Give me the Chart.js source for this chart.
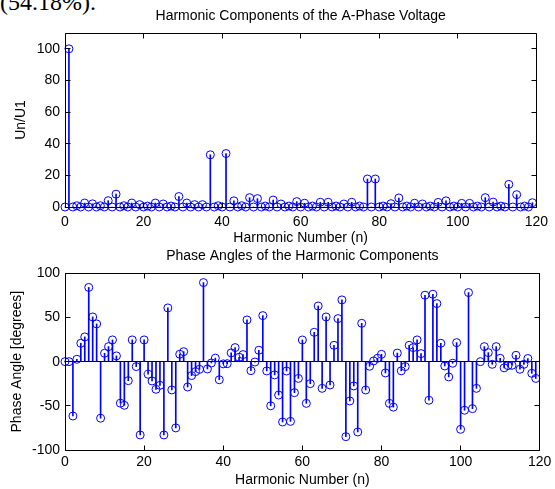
<!DOCTYPE html>
<html>
<head>
<meta charset="utf-8">
<script src="https://cdn.jsdelivr.net/npm/chart.js@4.4.1/dist/chart.umd.min.js"></script>
<style>
  body { margin: 0; background: #fff; width: 555px; height: 489px; overflow: hidden; position: relative; }
  canvas { position: absolute; left: 0; }
  #magChart { top: 0; }
  #phaseChart { top: 248px; }
  .lead { position: absolute; left: 0; top: -10px; font: 24px/24px "Liberation Serif", "Times New Roman", serif; white-space: nowrap; }
</style>
</head>
<body>
<div class="lead">(54.18%).</div>
<canvas id="magChart" width="555" height="248"></canvas>
<canvas id="phaseChart" width="555" height="241"></canvas>
<script>
const harmonicTicks = [0, 20, 40, 60, 80, 100, 120];
const magnitudeTicks = [0, 20, 40, 60, 80, 100];
const phaseTicks = [-100, -50, 0, 50, 100];

// Un/U1 in percent, harmonic n = 0..119
const magnitude = [
  0, 100, 0, 0.8, 0, 2.5, 0, 2, 0, 0.8,
  0, 4, 0, 8.1, 0, 0.8, 0, 2.5, 0, 1.5,
  0, 0.6, 0, 2.5, 0, 1.9, 0, 0.6, 0, 6.6,
  0, 2.5, 0, 1.5, 0, 1.5, 0, 33, 0, 0.8,
  0, 33.8, 0, 3.9, 0, 0.8, 0, 5.9, 0, 5.3,
  0, 0.6, 0, 4.4, 0, 1.9, 0, 0.6, 0, 3.4,
  0, 2.4, 0, 0.6, 0, 3, 0, 3, 0, 0.6,
  0, 1.9, 0, 3, 0, 0.6, 0, 17.7, 0, 17.7,
  0, 0.6, 0, 2.1, 0, 5.7, 0, 0.6, 0, 2.4,
  0, 1.9, 0, 0.6, 0, 2.9, 0, 3.9, 0, 0.6,
  0, 2.3, 0, 2.3, 0, 0.6, 0, 5.9, 0, 3.1,
  0, 0.6, 0, 14.3, 0, 7.8, 0, 0.6, 0, 2.7
];

// phase angle in degrees, harmonic n = 0..119
const phase = [
  0, 0, -61.5, 2.7, 20.8, 28, 84, 50.6, 42.7, -64,
  9.5, 17, 24.6, 6.5, -47, -49.4, -21.5, 24.6, -5.6, -83,
  24.6, -14.3, -21.9, -31.3, -26.8, -83, 60.8, -32, -75, 8.4,
  11.3, -28.7, -15.8, -11.3, -8.7, 89.5, -8.3, -1.5, 4, -20.5,
  -2.5, -2.3, 9.9, 15.9, 5, 8, 47.2, -10.2, -0.4, 12.9,
  52.1, -10.5, -50, -15, -37.8, -68.3, -10.6, -67.6, -35.1, -19,
  24.5, -47.2, -24.9, 33.2, 63, -30.2, 50.6, -26.4, 18.5, 48.7,
  69.9, -84.9, -44.5, -27.5, -79.6, 43.4, -32.1, -5.2, 0.8, 3.8,
  8.3, -12.8, -47.2, -51.5, 9.7, -10.4, -5.6, 18.5, 15.9, 24.6,
  9.1, 75.2, -43.7, 76.3, 65.7, 20.8, -4.9, -17.3, -1.8, 21.5,
  -76.6, -55, 78.2, -53.2, -30.2, 0, 17, 10.2, -3, 17,
  3.8, -7, -4.5, -4.1, 7.2, -8.6, -3, 3.6, -13.2, -19
];

const STEM = '#0000ff';

Chart.defaults.font.family = '"Liberation Sans", Arial, sans-serif';
Chart.defaults.font.size = 14;
Chart.defaults.color = '#000';

// closed box round the plot with short inward ticks on every side
const axesBox = {
  id: 'axesBox',
  afterDatasetsDraw(chart) {
    const { ctx, chartArea: a, scales: { x, y } } = chart;
    const L = Math.floor(a.left) + 0.5, R = Math.floor(a.right) + 0.5;
    const T = Math.floor(a.top) + 0.5, B = Math.floor(a.bottom) + 0.5;
    ctx.save();
    ctx.strokeStyle = '#000';
    ctx.lineWidth = 1;
    ctx.beginPath();
    ctx.rect(L, T, R - L, B - T);
    x.ticks.forEach(t => {
      const px = Math.floor(x.getPixelForValue(t.value)) + 0.5;
      ctx.moveTo(px, B); ctx.lineTo(px, B - 5);
      ctx.moveTo(px, T); ctx.lineTo(px, T + 5);
    });
    y.ticks.forEach(t => {
      const py = Math.floor(y.getPixelForValue(t.value)) + 0.5;
      ctx.moveTo(L, py); ctx.lineTo(L + 5, py);
      ctx.moveTo(R, py); ctx.lineTo(R - 5, py);
    });
    ctx.stroke();
    ctx.restore();
  }
};

function stemChart(id, values, o) {
  const pts = values.map((v, n) => ({ x: n, y: v }));
  return new Chart(document.getElementById(id), {
    type: 'bar',
    data: {
      datasets: [
        { data: pts, backgroundColor: STEM, borderWidth: 0, barThickness: 1, clip: false },
        {
          type: 'line', data: pts, showLine: false, clip: false,
          pointRadius: 4, pointHoverRadius: 4, pointBorderWidth: 1,
          pointBorderColor: STEM, pointBackgroundColor: 'rgba(0,0,0,0)'
        }
      ]
    },
    options: {
      responsive: false,
      animation: false,
      devicePixelRatio: 1,
      layout: { padding: { left: 0, right: 12, top: 0, bottom: 0 } },
      plugins: {
        legend: { display: false },
        tooltip: { enabled: false },
        title: {
          display: true, text: o.title, fullSize: false, color: '#000',
          font: { size: 14, weight: 'normal', lineHeight: 1.2 },
          padding: o.titlePad
        }
      },
      scales: {
        x: {
          type: 'linear', min: 0, max: 120, offset: false,
          afterBuildTicks: s => { s.ticks = harmonicTicks.map(v => ({ value: v })); },
          afterFit: s => { s.height = o.xHeight; },
          ticks: { padding: o.xTickPad, maxRotation: 0, autoSkip: false },
          grid: { display: false, drawTicks: false },
          border: { display: false },
          title: {
            display: true, text: 'Harmonic Number (n)',
            font: { size: 14, lineHeight: 1.2 },
            padding: { top: 0, bottom: o.xTitlePad }
          }
        },
        y: {
          type: 'linear', min: o.yMin, max: o.yMax,
          afterBuildTicks: s => { s.ticks = o.yTicks.map(v => ({ value: v })); },
          afterFit: s => { s.width = 65; },
          ticks: { padding: 5 },
          grid: {
            drawTicks: false,
            color: c => (c.tick && c.tick.value === 0 ? '#000' : 'rgba(0,0,0,0)')
          },
          border: { display: false },
          title: {
            display: true, text: o.yLabel,
            font: { size: 14, lineHeight: 1.2 },
            padding: { top: o.yTitlePad, bottom: 0 }
          }
        }
      }
    },
    plugins: [axesBox]
  });
}

stemChart('magChart', magnitude, {
  title: 'Harmonic Components of the A-Phase Voltage',
  titlePad: { top: 7.6, bottom: 8.6 },
  yLabel: 'Un/U1',
  yMin: 0, yMax: 110, yTicks: magnitudeTicks,
  xHeight: 41, xTickPad: 7, xTitlePad: 1.6, yTitlePad: 12.3
});

stemChart('phaseChart', phase, {
  title: 'Phase Angles of the Harmonic Components',
  titlePad: { top: 0, bottom: 8.5 },
  yLabel: 'Phase Angle [degrees]',
  yMin: -100, yMax: 100, yTicks: phaseTicks,
  xHeight: 39, xTickPad: 3.6, xTitlePad: 0, yTitlePad: 8.3
});
</script>
</body>
</html>
